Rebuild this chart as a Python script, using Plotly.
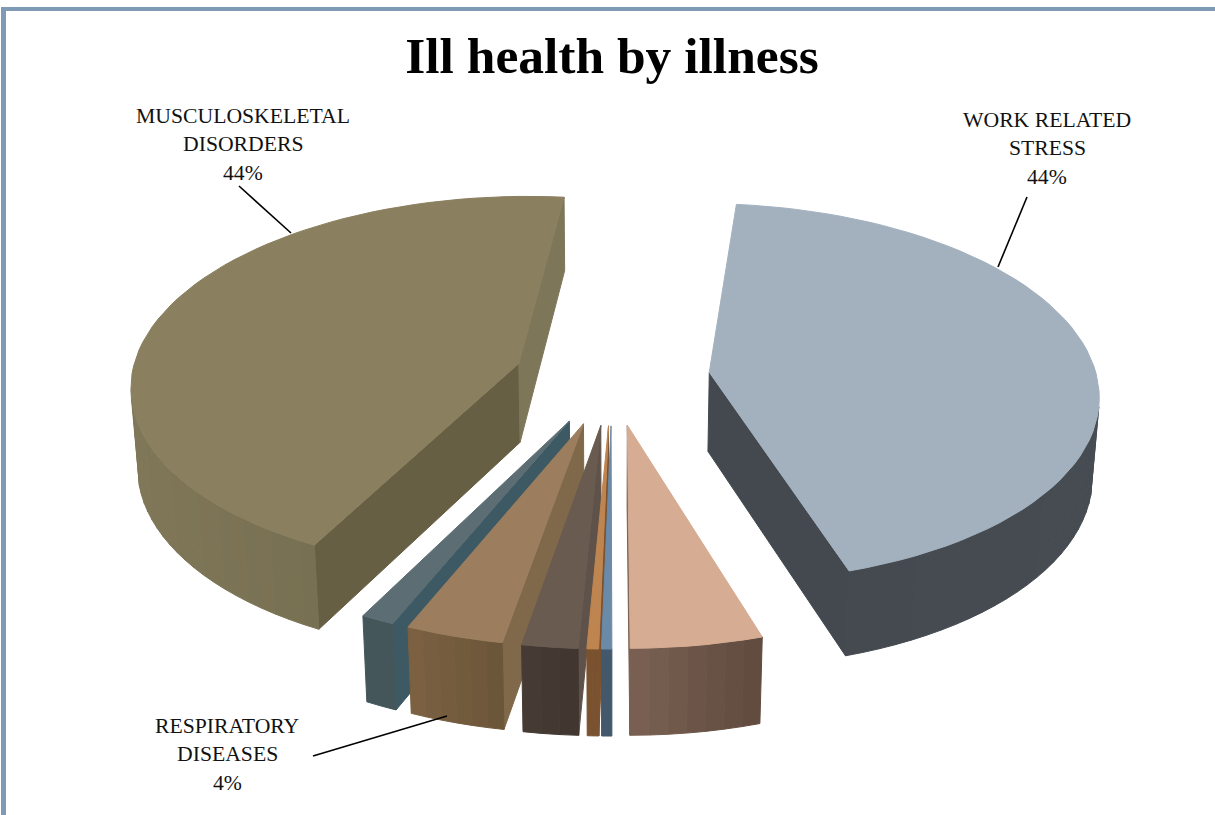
import numpy as np
import plotly.graph_objects as go

# Slices clockwise from the top of the pie, share in percent
illnesses = ["Work related stress", "Other 1", "Other 2", "Other 3", "Other 4",
             "Respiratory diseases", "Other 5", "Musculoskeletal disorders"]
shares = [43.5, 4.8, 0.37, 0.42, 2.03, 3.57, 1.22, 44.09]

top_colors = ["#A3B1BF", "#D6AC93", "#6A8AA8", "#BF8550", "#6A5B50", "#9C7E5E", "#5C6E74", "#8A7F5E"]
# cut faces: the one where the slice starts and the one where it ends
start_side_colors = ["#43494F", "#7A6051", "#43586A", "#7A5230", "#5F524A", "#80694A", "#3D5964", "#665F43"]
end_side_colors = ["#43494F", "#7A6051", "#43586A", "#7A5230", "#5F524A", "#7F6A4A", "#3D5964", "#7E7658"]
arc_left_colors = ["#43494E", "#7A6152", "#43586A", "#7A5230", "#473C35", "#7C6143", "#44565A", "#7F7758"]
arc_right_colors = ["#464C52", "#5F4A3E", "#43586A", "#7A5230", "#40362F", "#6B5538", "#44565A", "#6D6648"]

labels = [
    (["MUSCULOSKELETAL", "DISORDERS", "44%"], 243, 116),
    (["WORK RELATED", "STRESS", "44%"], 1047, 120),
    (["RESPIRATORY", "DISEASES", "4%"], 227, 726),
]
leaders = [(239, 186, 291, 233), (1027, 197, 998, 267), (313, 756, 447, 716)]

# Pie shape and camera, fitted to the picture
start_angle = 6.0
explode = 0.253
wall = 0.237
cx, cy, scale = 612.0, 377.0, 387.5
tilt = np.radians(29.0)
persp = 0.123


def project(px, py, pz):
    # py points at the viewer, pz up; returns page pixels
    w = 1 - persp * (py * np.cos(tilt) + pz * np.sin(tilt))
    sx = cx + scale * px / w
    sy = cy + scale * (py * np.sin(tilt) - pz * np.cos(tilt)) / w
    return sx, sy


def mix(c1, c2, t):
    a = [int(c1[i:i + 2], 16) for i in (1, 3, 5)]
    b = [int(c2[i:i + 2], 16) for i in (1, 3, 5)]
    return "rgb(%d,%d,%d)" % tuple(round(a[i] + (b[i] - a[i]) * t) for i in range(3))


def area(xs, ys):
    return 0.5 * np.sum(xs * np.roll(ys, -1) - np.roll(xs, -1) * ys)


def poly(fig, pts, color):
    xs, ys = project(*np.array(pts).T)
    # only faces turned to the camera
    if area(xs, ys) <= 0:
        return
    fig.add_trace(go.Scatter(
        x=np.append(xs, xs[0]), y=np.append(ys, ys[0]), mode="lines", fill="toself",
        fillcolor=color, line=dict(color=color, width=1), hoverinfo="skip", showlegend=False,
    ))


fig = go.Figure()
edges = start_angle + np.cumsum([0] + shares) * 3.6
mids = np.radians((edges[:-1] + edges[1:]) / 2)

# far slices first so the near ones paint over them
for i in np.argsort(-np.cos(mids) * explode):
    a0, a1 = np.radians(edges[i]), np.radians(edges[i + 1])
    ox, oy = explode * np.sin(mids[i]), -explode * np.cos(mids[i])
    n = max(2, int((edges[i + 1] - edges[i]) / 2.5) + 1)
    t = np.linspace(a0, a1, n + 1)
    ax, ay = ox + np.sin(t), oy - np.cos(t)

    # the two flat cut faces
    poly(fig, [(ox, oy, 0), (ox, oy, -wall), (ax[0], ay[0], -wall), (ax[0], ay[0], 0)], start_side_colors[i])
    poly(fig, [(ox, oy, 0), (ax[-1], ay[-1], 0), (ax[-1], ay[-1], -wall), (ox, oy, -wall)], end_side_colors[i])

    # outer wall in strips so it can shade across
    sxs = project(ax, ay, 0 * ax)[0]
    lo, hi = sxs.min(), sxs.max()
    for j in range(n):
        shade = ((sxs[j] + sxs[j + 1]) / 2 - lo) / max(hi - lo, 1)
        poly(fig, [(ax[j], ay[j], 0), (ax[j], ay[j], -wall),
                   (ax[j + 1], ay[j + 1], -wall), (ax[j + 1], ay[j + 1], 0)],
             mix(arc_left_colors[i], arc_right_colors[i], shade))

    # top face
    poly(fig, [(ox, oy, 0)] + [(u, v, 0) for u, v in zip(ax, ay)], top_colors[i])

annotations = []
for lines, x, y in labels:
    for k, line in enumerate(lines):
        annotations.append(dict(x=x, y=y + k * 28.3, xref="x", yref="y", text=line, showarrow=False,
                                font=dict(family="Liberation Serif", size=21.7, color="#111111")))

shapes = [dict(type="line", x0=a, y0=b, x1=c, y1=d, xref="x", yref="y", line=dict(color="black", width=1.6))
          for a, b, c, d in leaders]
# page frame on the left and top only
shapes.append(dict(type="rect", x0=1, x1=6, y0=7, y1=815, xref="x", yref="y", fillcolor="#7F9AB5", line_width=0))
shapes.append(dict(type="rect", x0=1, x1=1215, y0=7, y1=11, xref="x", yref="y", fillcolor="#7F9AB5", line_width=0))

fig.update_layout(
    width=1215,
    height=815,
    margin=dict(l=0, r=0, t=0, b=0),
    paper_bgcolor="white",
    plot_bgcolor="white",
    showlegend=False,
    title=dict(text="<b>Ill health by illness</b>", x=612 / 1215, y=1 - 55 / 815, xanchor="center", yanchor="middle",
               font=dict(family="Liberation Serif", size=51.5, color="black")),
    xaxis=dict(range=[0, 1215], visible=False, fixedrange=True),
    yaxis=dict(range=[815, 0], visible=False, fixedrange=True),
    annotations=annotations,
    shapes=shapes,
)

fig.write_html("out.html", config=dict(displayModeBar=False), post_script="document.body.style.margin='0';")
